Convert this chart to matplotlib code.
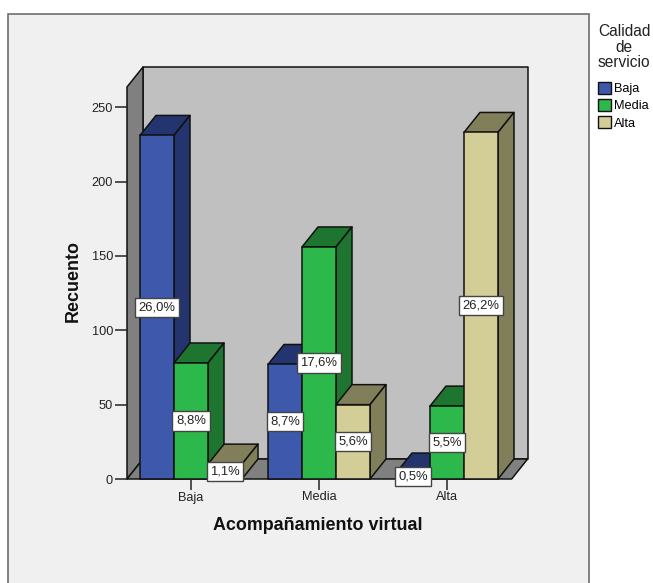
import matplotlib
matplotlib.use('Agg')
import matplotlib.pyplot as plt
from matplotlib.patches import Polygon, Patch, Rectangle

plt.rcParams['font.family'] = ['Liberation Sans', 'DejaVu Sans']

# Data
categories = ['Baja', 'Media', 'Alta']
series_names = ['Baja', 'Media', 'Alta']
baja_counts = [231, 77, 4]
media_counts = [78, 156, 49]
alta_counts = [10, 50, 233]
baja_pct = ['26,0%', '8,7%', '0,5%']
media_pct = ['8,8%', '17,6%', '5,5%']
alta_pct = ['1,1%', '5,6%', '26,2%']
y_ticks = [0, 50, 100, 150, 200, 250]

front_colors = ['#3e58ac', '#2db84b', '#d3ce97']
dark_colors = ['#23346f', '#1e7530', '#817e5a']
wall_color = '#c0c0c0'
side_color = '#808080'
panel_color = '#f0f0f0'

W, H = 653, 583
fig = plt.figure(figsize=(W / 100, H / 100), dpi=100, facecolor='white')

# outer grey panel of the SPSS chart, its bottom edge is cut off by the image
fig.add_artist(Rectangle((8 / W, 1 - 595 / H), 581 / W, 581 / H, transform=fig.transFigure,
                         facecolor=panel_color, edgecolor='#6e6e6e', linewidth=1.2, zorder=-1))

ax = fig.add_axes([127 / W, 1 - 479 / H, 401 / W, 412 / H])
ax.patch.set_visible(False)
ax.set_xlim(-0.5, 2.633)
ax.set_ylim(0, 277)

bar_w = 34 / 128
dx = 16 / 128
dy = 20 / 1.488
x_left, x_right = -0.5, 2.505
y_top = 277 - dy


def poly(pts, color):
    ax.add_patch(Polygon(pts, closed=True, facecolor=color, edgecolor='#111111',
                         linewidth=1.1, joinstyle='round', clip_on=False))


# back wall, left wall and floor
poly([(x_left + dx, dy), (x_right + dx, dy), (x_right + dx, y_top + dy), (x_left + dx, y_top + dy)], wall_color)
poly([(x_left, 0), (x_left + dx, dy), (x_left + dx, y_top + dy), (x_left, y_top)], side_color)
poly([(x_left, 0), (x_right, 0), (x_right + dx, dy), (x_left + dx, dy)], side_color)

all_counts = [baja_counts, media_counts, alta_counts]
all_pct = [baja_pct, media_pct, alta_pct]

for c in range(len(categories)):
    for s in range(len(series_names)):
        v = all_counts[s][c]
        x0 = c + (s - 1.5) * bar_w
        x1 = x0 + bar_w
        # top and side faces, then the front
        poly([(x0, v), (x1, v), (x1 + dx, v + dy), (x0 + dx, v + dy)], dark_colors[s])
        poly([(x1, 0), (x1 + dx, dy), (x1 + dx, v + dy), (x1, v)], dark_colors[s])
        poly([(x0, 0), (x1, 0), (x1, v), (x0, v)], front_colors[s])

# value labels go on top of every bar
for c in range(len(categories)):
    for s in range(len(series_names)):
        v = all_counts[s][c]
        xc = c + (s - 1) * bar_w
        ax.text(xc, v / 2, all_pct[s][c], ha='center', va='center', fontsize=9.4, color='#222222', zorder=10,
                bbox=dict(boxstyle='square,pad=0.27', facecolor='white', edgecolor='#444444', linewidth=1.0))

for side in ['top', 'right', 'left', 'bottom']:
    ax.spines[side].set_visible(False)

ax.set_xticks(range(len(categories)))
ax.set_xticklabels(categories)
ax.set_yticks(y_ticks)
ax.tick_params(axis='x', length=8, width=1.1, labelsize=9.2, pad=1, color='#222222', labelcolor='#222222')
ax.tick_params(axis='y', length=9, width=1.1, labelsize=9.2, pad=1, color='#222222', labelcolor='#222222')

ax.set_xlabel('Acompañamiento virtual', fontsize=12.9, fontweight='bold', color='#111111')
ax.xaxis.set_label_coords((318 - 127) / 401, -(526 - 479) / 412)
ax.xaxis.label.set_va('center')
ax.set_ylabel('Recuento', fontsize=12.9, fontweight='bold', color='#111111')
ax.yaxis.set_label_coords((73 - 127) / 401, (479 - 281) / 412)
ax.yaxis.label.set_va('center')

fig.text(624 / W, 1 - 47 / H, 'Calidad\nde\nservicio', ha='center', va='center', fontsize=11.2,
         color='#222222', linespacing=1.06)
handles = [Patch(facecolor=front_colors[i], edgecolor='#111111', linewidth=1.0) for i in range(3)]
fig.legend(handles, series_names, loc='upper left', bbox_to_anchor=(598 / W, 1 - 82 / H), frameon=False,
           fontsize=9.2, handlelength=0.98, handleheight=1.05, handletextpad=0.3, labelspacing=0.3,
           borderpad=0, borderaxespad=0)

fig.savefig('out.png', dpi=100)
